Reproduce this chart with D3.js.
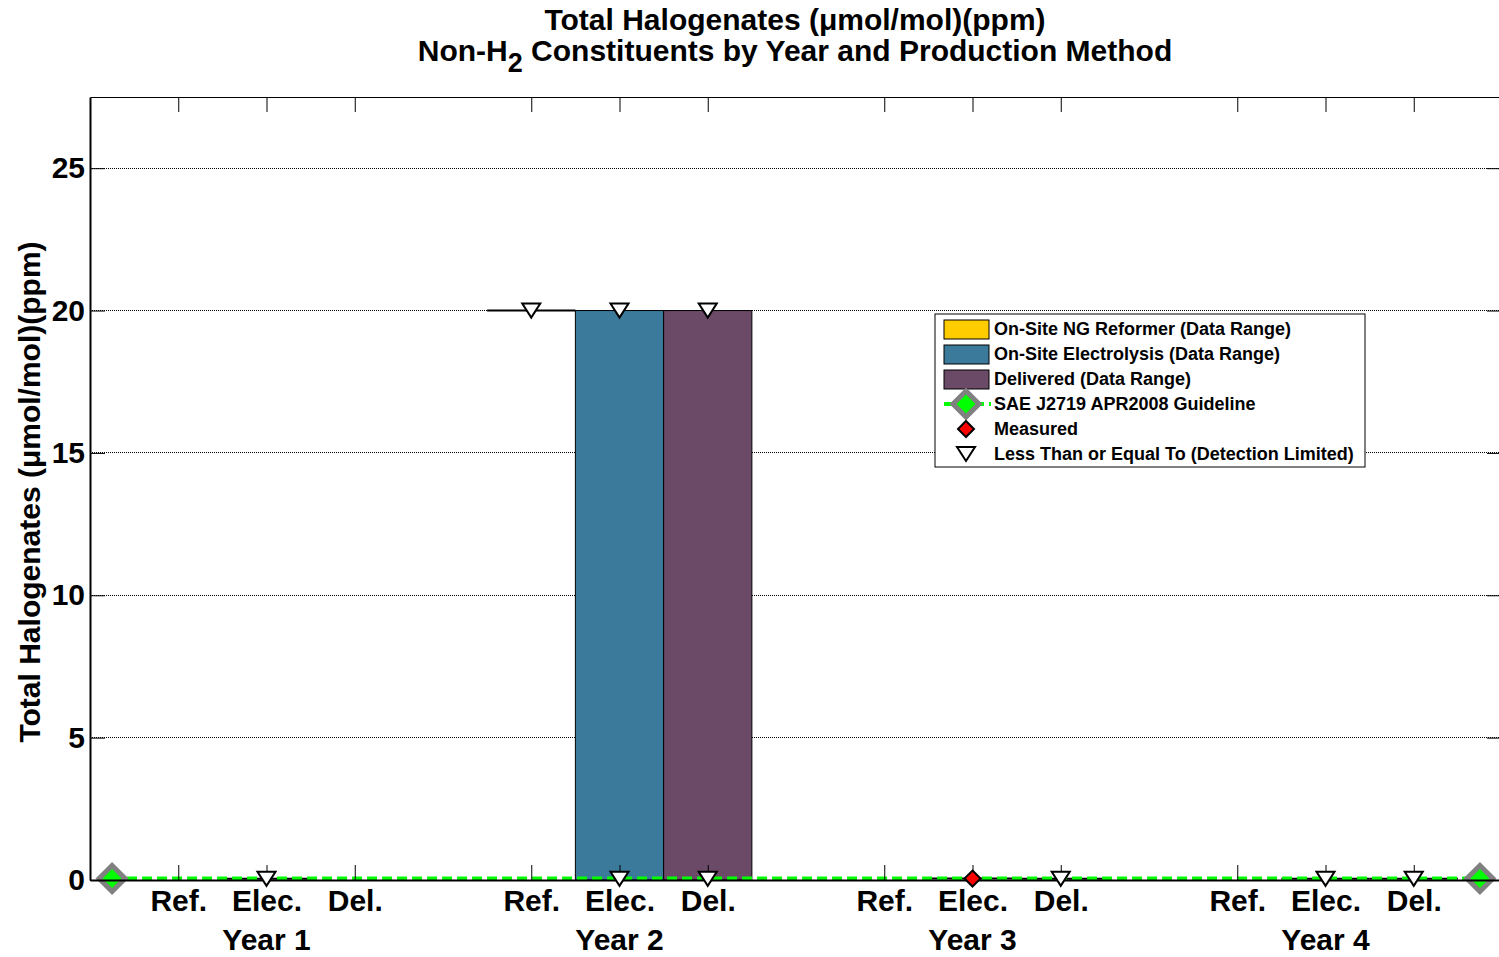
<!DOCTYPE html>
<html>
<head>
<meta charset="utf-8">
<script src="https://cdn.jsdelivr.net/npm/d3@7"></script>
<style>
  body { margin: 0; background: #fff; }
  text { font-family: "Liberation Sans", Arial, sans-serif; font-weight: bold; }
</style>
</head>
<body>
<div id="vis"></div>
<script>
// data
const years = ["Year 1", "Year 2", "Year 3", "Year 4"];
const methods = ["Ref.", "Elec.", "Del."];
// data range per year (null = no data)
const refLow = [null, 20, null, null];
const refHigh = [null, 20, null, null];
const elecLow = [0.04, 0, 0.05, 0.04];
const elecHigh = [0.04, 20, 0.05, 0.04];
const delLow = [null, 0, 0.04, 0.04];
const delHigh = [null, 20, 0.04, 0.04];
// measured points [year index, method index, value]
const measured = [[2, 1, 0.05]];
// detection limited points
const detectLimited = [
  [0, 1, 0.04],
  [1, 0, 20], [1, 1, 20], [1, 1, 0.04], [1, 2, 20], [1, 2, 0.04],
  [2, 2, 0.04],
  [3, 1, 0.04], [3, 2, 0.04]
];
const guideline = 0.05;
const yTicks = [0, 5, 10, 15, 20, 25];

const COLORS = ["#FFCC00", "#3B7A9B", "#6A4A67"];
const LEGEND_LABELS = [
  "On-Site NG Reformer (Data Range)",
  "On-Site Electrolysis (Data Range)",
  "Delivered (Data Range)",
  "SAE J2719 APR2008 Guideline",
  "Measured",
  "Less Than or Equal To (Detection Limited)"
];

const FRAME_WIDTH = 1499;
const FRAME_HEIGHT = 957;
const PLOT = {left: 90, right: 1502, top: 97, bottom: 880};

const SVG = d3.select("#vis").append("svg")
  .attr("width", FRAME_WIDTH)
  .attr("height", FRAME_HEIGHT);

const X_SCALE = d3.scaleLinear().domain([0, 16]).range([PLOT.left, PLOT.right]);
const Y_SCALE = d3.scaleLinear().domain([0, 27.5]).range([PLOT.bottom, PLOT.top]);

const xPos = (yi, mi) => yi * 4 + mi + 1;

// grid lines
SVG.append("g").selectAll("line")
  .data(yTicks.filter(d => d > 0))
  .enter().append("line")
    .attr("x1", PLOT.left).attr("x2", PLOT.right)
    .attr("y1", d => Y_SCALE(d)).attr("y2", d => Y_SCALE(d))
    .attr("stroke", "#000").attr("stroke-width", 1)
    .attr("stroke-dasharray", "1,1")
    .attr("shape-rendering", "crispEdges");

// range bars
const lows = [refLow, elecLow, delLow];
const highs = [refHigh, elecHigh, delHigh];
const bars = [];
methods.forEach((m, mi) => {
  years.forEach((y, yi) => {
    if (lows[mi][yi] !== null) bars.push({yi: yi, mi: mi, lo: lows[mi][yi], hi: highs[mi][yi]});
  });
});
const BARS = SVG.append("g");
BARS.selectAll("rect")
  .data(bars.filter(d => d.hi > d.lo))
  .enter().append("rect")
    .attr("x", d => X_SCALE(xPos(d.yi, d.mi) - 0.5))
    .attr("width", X_SCALE(1) - X_SCALE(0))
    .attr("y", d => Y_SCALE(d.hi))
    .attr("height", d => Y_SCALE(d.lo) - Y_SCALE(d.hi))
    .attr("fill", d => COLORS[d.mi])
    .attr("stroke", "#000")
    .attr("stroke-width", 1);
// ranges with no spread show as a flat line
BARS.selectAll("line")
  .data(bars.filter(d => d.hi === d.lo))
  .enter().append("line")
    .attr("x1", d => X_SCALE(xPos(d.yi, d.mi) - 0.5))
    .attr("x2", d => X_SCALE(xPos(d.yi, d.mi) + 0.5))
    .attr("y1", d => Y_SCALE(d.hi))
    .attr("y2", d => Y_SCALE(d.hi))
    .attr("stroke", "#000")
    .attr("stroke-width", 2);

// guideline
SVG.append("line")
  .attr("x1", X_SCALE(0.25)).attr("x2", X_SCALE(15.75))
  .attr("y1", Y_SCALE(guideline)).attr("y2", Y_SCALE(guideline))
  .attr("stroke", "#00FF00").attr("stroke-width", 4)
  .attr("stroke-dasharray", "10,5");

function guideDiamond(g, x, y) {
  g.append("path")
    .attr("d", `M${x},${y - 13}L${x + 13},${y}L${x},${y + 13}L${x - 13},${y}Z`)
    .attr("fill", "#00FF00").attr("stroke", "#808080").attr("stroke-width", 5);
}
[0.25, 15.75].forEach(v => guideDiamond(SVG, X_SCALE(v), Y_SCALE(guideline)));

// axes box ticks
const tickVals = [];
years.forEach((y, yi) => methods.forEach((m, mi) => tickVals.push(xPos(yi, mi))));

SVG.append("g")
  .attr("transform", `translate(0,${PLOT.bottom})`)
  .call(d3.axisBottom(X_SCALE).tickValues(tickVals)
    .tickFormat((d, i) => methods[i % 3])
    .tickSizeInner(-15).tickSizeOuter(0).tickPadding(10))
  .call(g => g.select(".domain").attr("stroke-width", 2))
  .call(g => g.selectAll("text").attr("font-size", 30).attr("font-family", null).attr("fill", "#000"));

SVG.append("g")
  .attr("transform", `translate(0,${PLOT.top})`)
  .call(d3.axisTop(X_SCALE).tickValues(tickVals).tickFormat("")
    .tickSizeInner(-15).tickSizeOuter(0))
  .call(g => g.select(".domain").attr("stroke-width", 1));

SVG.append("g")
  .attr("transform", `translate(${PLOT.left},0)`)
  .call(d3.axisLeft(Y_SCALE).tickValues(yTicks)
    .tickSizeInner(-15).tickSizeOuter(0).tickPadding(5))
  .call(g => g.select(".domain").attr("stroke-width", 2))
  .call(g => g.selectAll("text").attr("font-size", 30).attr("font-family", null).attr("fill", "#000"));

SVG.append("g")
  .attr("transform", `translate(${PLOT.right},0)`)
  .call(d3.axisRight(Y_SCALE).tickValues(yTicks).tickFormat("")
    .tickSizeInner(-15).tickSizeOuter(0));

// year labels
SVG.append("g").selectAll("text")
  .data(years)
  .enter().append("text")
    .attr("x", (d, i) => X_SCALE(xPos(i, 1)))
    .attr("y", 950)
    .attr("text-anchor", "middle")
    .attr("font-size", 30)
    .text(d => d);

// markers
function triangle(g, x, y) {
  g.append("path")
    .attr("d", `M${x - 9},${y - 7}L${x + 9},${y - 7}L${x},${y + 7}Z`)
    .attr("fill", "#fff").attr("stroke", "#000").attr("stroke-width", 2);
}
function redDiamond(g, x, y) {
  g.append("path")
    .attr("d", `M${x},${y - 8}L${x + 8},${y}L${x},${y + 8}L${x - 8},${y}Z`)
    .attr("fill", "#FF0000").attr("stroke", "#000").attr("stroke-width", 2);
}
const marks = SVG.append("g");
detectLimited.forEach(d => triangle(marks, X_SCALE(xPos(d[0], d[1])), Y_SCALE(d[2])));
measured.forEach(d => redDiamond(marks, X_SCALE(xPos(d[0], d[1])), Y_SCALE(d[2])));

// titles
SVG.append("text")
  .attr("x", 795).attr("y", 30)
  .attr("text-anchor", "middle").attr("font-size", 30)
  .text("Total Halogenates (\u03bcmol/mol)(ppm)");
const t2 = SVG.append("text")
  .attr("x", 795).attr("y", 61)
  .attr("text-anchor", "middle").attr("font-size", 30);
t2.append("tspan").text("Non-H");
t2.append("tspan").attr("dy", 11).attr("font-size", 27).text("2");
t2.append("tspan").attr("dy", -11).text(" Constituents by Year and Production Method");

SVG.append("text")
  .attr("transform", "translate(40,492) rotate(-90)")
  .attr("text-anchor", "middle").attr("font-size", 30)
  .text("Total Halogenates (\u03bcmol/mol)(ppm)");

// legend
const LEG = SVG.append("g").attr("transform", "translate(935,314)");
LEG.append("rect")
  .attr("width", 430).attr("height", 153)
  .attr("fill", "#fff").attr("stroke", "#000").attr("stroke-width", 1);
LEGEND_LABELS.forEach((lab, i) => {
  const cy = 15 + i * 25;
  if (i < 3) {
    LEG.append("rect")
      .attr("x", 9).attr("y", cy - 9).attr("width", 45).attr("height", 19)
      .attr("fill", COLORS[i]).attr("stroke", "#000").attr("stroke-width", 1);
  } else if (i === 3) {
    LEG.append("line")
      .attr("x1", 9).attr("x2", 56).attr("y1", cy).attr("y2", cy)
      .attr("stroke", "#00FF00").attr("stroke-width", 4).attr("stroke-dasharray", "10,5");
    guideDiamond(LEG, 31, cy);
  } else if (i === 4) {
    redDiamond(LEG, 31, cy);
  } else {
    triangle(LEG, 31, cy);
  }
  LEG.append("text")
    .attr("x", 59).attr("y", cy + 6)
    .attr("font-size", 18)
    .text(lab);
});
</script>
</body>
</html>
